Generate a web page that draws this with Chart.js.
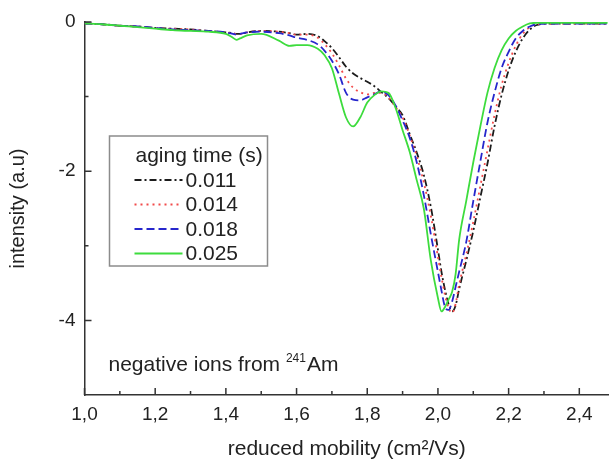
<!DOCTYPE html>
<html>
<head>
<meta charset="utf-8">
<script src="https://cdn.jsdelivr.net/npm/chart.js@4.4.1/dist/chart.umd.min.js"></script>
<style>
  html, body { margin: 0; padding: 0; background: #ffffff; }
  #wrap { width: 609px; height: 460px; }
</style>
</head>
<body>
<div id="wrap"><canvas id="c" width="609" height="460"></canvas></div>
<script>
// ---- data ----
const mobility = [1.00,1.05,1.10,1.15,1.20,1.25,1.30,1.35,1.40,1.42,1.43,1.44,1.46,1.50,1.55,1.58,1.60,1.63,1.66,1.68,1.70,1.72,1.74,1.76,1.78,1.80,1.82,1.84,1.86,1.88,1.90,1.92,1.94,1.96,1.98,2.00,2.01,2.02,2.03,2.04,2.05,2.06,2.08,2.10,2.12,2.14,2.16,2.18,2.20,2.22,2.24,2.26,2.28,2.32,2.36,2.40,2.44,2.48];

const series011 = [-0.02,-0.03,-0.05,-0.06,-0.08,-0.09,-0.10,-0.12,-0.14,
  -0.15,-0.16,-0.16,-0.14,
  -0.12,-0.13,-0.15,-0.17,-0.16,-0.19,-0.26,
  -0.35,-0.47,-0.60,-0.69,-0.75,-0.80,-0.86,-0.94,-1.02,-1.13,
  -1.25,-1.50,-1.75,-2.05,-2.48,-3.05,
  -3.35,-3.59,-3.78,-3.88,-3.80,-3.58,
  -3.20,-2.80,-2.35,-1.90,-1.40,-0.98,-0.65,-0.40,-0.22,-0.10,-0.04,
  -0.02,-0.02,-0.02,-0.02,-0.02];

const series014 = [-0.02,-0.03,-0.05,-0.06,-0.08,-0.09,-0.10,-0.12,-0.14,
  -0.15,-0.16,-0.16,-0.14,
  -0.12,-0.13,-0.15,-0.17,-0.17,-0.21,-0.30,
  -0.42,-0.58,-0.76,-0.88,-0.94,-0.97,-0.95,-0.95,-1.01,-1.14,
  -1.28,-1.52,-1.80,-2.15,-2.60,-3.15,
  -3.42,-3.66,-3.83,-3.90,-3.78,-3.52,
  -3.12,-2.68,-2.20,-1.72,-1.25,-0.85,-0.55,-0.32,-0.16,-0.07,-0.03,
  -0.02,-0.02,-0.02,-0.02,-0.02];

const series018 = [-0.02,-0.03,-0.05,-0.06,-0.08,-0.10,-0.11,-0.12,-0.14,
  -0.16,-0.17,-0.16,-0.14,
  -0.13,-0.15,-0.18,-0.21,-0.24,-0.30,-0.39,
  -0.52,-0.70,-0.95,-1.04,-1.05,-1.01,-0.97,-0.93,-0.98,-1.12,
  -1.32,-1.55,-1.88,-2.32,-2.85,-3.35,
  -3.60,-3.82,-3.86,-3.75,-3.55,-3.35,
  -2.95,-2.40,-1.87,-1.35,-0.95,-0.62,-0.40,-0.22,-0.12,-0.06,-0.03,
  -0.02,-0.02,-0.02,-0.02,-0.02];

const series025 = [-0.02,-0.03,-0.05,-0.07,-0.09,-0.11,-0.12,-0.13,-0.16,
  -0.21,-0.24,-0.22,-0.18,
  -0.16,-0.25,-0.32,-0.31,-0.31,-0.36,-0.45,
  -0.62,-0.96,-1.28,-1.40,-1.28,-1.08,-0.98,-0.93,-0.95,-1.15,
  -1.45,-1.74,-2.12,-2.50,-3.20,-3.70,
  -3.88,-3.82,-3.72,-3.62,-3.38,-2.92,
  -2.40,-1.88,-1.40,-0.95,-0.62,-0.38,-0.22,-0.12,-0.06,-0.02,-0.01,
  -0.01,-0.01,-0.01,-0.01,-0.01];

const seriesLabels = ['0.011', '0.014', '0.018', '0.025'];
const legendTitle = 'aging time (s)';
const xTicks = [1.0, 1.2, 1.4, 1.6, 1.8, 2.0, 2.2, 2.4];
const xMinorTicks = [1.1, 1.3, 1.5, 1.7, 1.9, 2.1, 2.3];
const yTicks = [-4, -2, 0];
const yMinorTicks = [-3, -1];
const xTitle = 'reduced mobility (cm²/Vs)';
const yTitle = 'intensity (a.u)';
const noteMain = 'negative ions from ';
const noteSup = '241';
const noteEnd = 'Am';

// ---- styling ----
const FONT = '"Liberation Sans", Arial, Helvetica, sans-serif';
const TXT = '#222222';
Chart.defaults.font.family = FONT;
Chart.defaults.color = TXT;

const toPts = ys => mobility.map((x, i) => ({ x: x, y: ys[i] }));

const styles = [
  { color: '#1c1c1c', dash: [7, 3, 2, 3], width: 1.8, order: 4 },
  { color: '#f24a4a', dash: [2, 4], width: 1.8, order: 3 },
  { color: '#2626cc', dash: [8, 4], width: 1.8, order: 2 },
  { color: '#3ddc3d', dash: [], width: 1.8, order: 1 }
];
const allSeries = [series011, series014, series018, series025];

const datasets = allSeries.map((s, i) => ({
  label: seriesLabels[i],
  data: toPts(s),
  borderColor: styles[i].color,
  borderDash: styles[i].dash,
  borderWidth: styles[i].width,
  order: styles[i].order,
  pointRadius: 0,
  fill: false,
  cubicInterpolationMode: 'monotone'
}));

const innerTicks = {
  id: 'innerTicks',
  afterDraw(chart) {
    const ctx = chart.ctx;
    const xs = chart.scales.x, ys = chart.scales.y;
    const a = chart.chartArea;
    ctx.save();
    ctx.strokeStyle = '#333333';
    ctx.lineWidth = 1.5;
    ctx.beginPath();
    xTicks.forEach(v => { const p = xs.getPixelForValue(v); ctx.moveTo(p, a.bottom); ctx.lineTo(p, a.bottom - 7); });
    xMinorTicks.forEach(v => { const p = xs.getPixelForValue(v); ctx.moveTo(p, a.bottom); ctx.lineTo(p, a.bottom - 4); });
    yTicks.forEach(v => { const p = ys.getPixelForValue(v); ctx.moveTo(a.left, p); ctx.lineTo(a.left + 7, p); });
    yMinorTicks.forEach(v => { const p = ys.getPixelForValue(v); ctx.moveTo(a.left, p); ctx.lineTo(a.left + 4, p); });
    ctx.stroke();
    ctx.restore();
  }
};

const boxLegend = {
  id: 'boxLegend',
  afterDraw(chart) {
    const ctx = chart.ctx;
    const a = chart.chartArea;
    const bx = a.left + 25, by = a.top + 114, bw = 158, bh = 130;
    ctx.save();
    ctx.fillStyle = '#ffffff';
    ctx.fillRect(bx, by, bw, bh);
    ctx.strokeStyle = '#8c8c8c';
    ctx.lineWidth = 1.5;
    ctx.strokeRect(bx, by, bw, bh);
    ctx.font = '21px ' + FONT;
    ctx.fillStyle = TXT;
    ctx.textBaseline = 'middle';
    ctx.textAlign = 'left';
    ctx.fillText(legendTitle, bx + 26, by + 20);
    chart.data.datasets.forEach((ds, i) => {
      const y = by + 44 + i * 24.5;
      ctx.setLineDash(ds.borderDash || []);
      ctx.strokeStyle = ds.borderColor;
      ctx.lineWidth = ds.borderWidth;
      ctx.beginPath();
      ctx.moveTo(bx + 25, y);
      ctx.lineTo(bx + 73, y);
      ctx.stroke();
      ctx.setLineDash([]);
      ctx.fillStyle = TXT;
      ctx.fillText(ds.label, bx + 76, y + 1);
    });
    // annotation
    const ty = a.top + 349;
    let tx = a.left + 24;
    ctx.textBaseline = 'alphabetic';
    ctx.font = '21px ' + FONT;
    ctx.fillText(noteMain, tx, ty);
    tx += ctx.measureText(noteMain).width;
    ctx.font = '12px ' + FONT;
    ctx.fillText(noteSup, tx, ty - 9);
    tx += ctx.measureText(noteSup).width + 1;
    ctx.font = '21px ' + FONT;
    ctx.fillText(noteEnd, tx, ty);
    ctx.restore();
  }
};

new Chart(document.getElementById('c'), {
  type: 'line',
  data: { datasets: datasets },
  options: {
    responsive: false,
    animation: false,
    layout: { padding: { top: 22, right: 0, left: 0, bottom: 0 } },
    plugins: { legend: { display: false }, tooltip: { enabled: false } },
    scales: {
      x: {
        type: 'linear',
        min: 1.0,
        max: 2.484,
        afterBuildTicks: s => { s.ticks = xTicks.map(v => ({ value: v })); },
        afterFit: s => { s.height = 65; },
        ticks: {
          callback: v => v.toFixed(1).replace('.', ','),
          font: { size: 19 },
          color: TXT,
          padding: 8,
          maxRotation: 0,
          autoSkip: false
        },
        grid: { display: false, drawTicks: false },
        border: { display: true, color: '#333333', width: 1.5 },
        title: {
          display: true,
          text: xTitle,
          font: { size: 21, lineHeight: 1.0 },
          color: TXT,
          padding: { top: 0, bottom: 0 }
        }
      },
      y: {
        type: 'linear',
        min: -5,
        max: 0,
        afterBuildTicks: s => { s.ticks = yTicks.map(v => ({ value: v })); },
        afterFit: s => { s.width = 84.5; },
        ticks: {
          callback: v => String(v),
          font: { size: 19 },
          color: TXT,
          padding: 9
        },
        grid: { display: false, drawTicks: false },
        border: { display: true, color: '#333333', width: 1.5 },
        title: {
          display: true,
          text: yTitle,
          font: { size: 20, lineHeight: 1.0 },
          color: TXT,
          padding: { top: 8, bottom: 0 }
        }
      }
    }
  },
  plugins: [innerTicks, boxLegend]
});
</script>
</body>
</html>
